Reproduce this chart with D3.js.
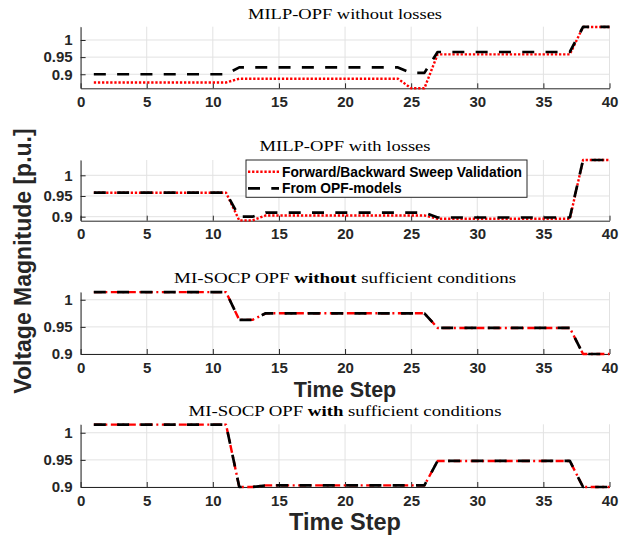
<!DOCTYPE html>
<html>
<head>
<meta charset="utf-8">
<script src="https://cdn.jsdelivr.net/npm/d3@7/dist/d3.min.js"></script>
<style>
  body { margin: 0; background: #fff; }
  svg { display: block; }
  .tick text { font-family: "Liberation Sans", Arial, sans-serif; font-weight: bold; font-size: 15px; fill: #262626; }
  .axis path, .axis line { stroke: #262626; stroke-width: 1; }
  .grid line { stroke: #e2e2e2; stroke-width: 1; }
  .title { font-family: "Liberation Serif", "Times New Roman", serif; font-size: 15px; fill: #000; white-space: pre; }
  .label { font-family: "Liberation Sans", Arial, sans-serif; font-weight: bold; fill: #262626; }
  .legend text { font-family: "Liberation Sans", Arial, sans-serif; font-weight: bold; font-size: 13.8px; fill: #000; }
</style>
</head>
<body>
<div id="chart"></div>
<script>

// time steps on the x axis
var timeSteps = [1, 2, 3, 4, 5, 6, 7, 8, 9, 10, 11, 12, 13, 14, 15, 16, 17, 18, 19, 20,
                 21, 22, 23, 24, 25, 26, 27, 28, 29, 30, 31, 32, 33, 34, 35, 36, 37, 38, 39, 40];

var xTicks = [0, 5, 10, 15, 20, 25, 30, 35, 40];
var yTicks = [0.9, 0.95, 1];

var seriesNames = ["Forward/Backward Sweep Validation", "From OPF-models"];

// MILP-OPF without losses
var sweepNoLoss = [0.876, 0.876, 0.876, 0.876, 0.876, 0.876, 0.876, 0.876, 0.876, 0.876, 0.876,
                   0.887, 0.887, 0.887, 0.887, 0.887, 0.887, 0.887, 0.887, 0.887, 0.887, 0.887, 0.887, 0.887,
                   0.859, 0.859,
                   0.958, 0.958, 0.958, 0.958, 0.958, 0.958, 0.958, 0.958, 0.958, 0.958, 0.958,
                   1.038, 1.038, 1.038];
var opfNoLoss = [0.900, 0.900, 0.900, 0.900, 0.900, 0.900, 0.900, 0.900, 0.900, 0.900, 0.900,
                 0.920, 0.920, 0.920, 0.920, 0.920, 0.920, 0.920, 0.920, 0.920, 0.920, 0.920, 0.920, 0.920,
                 0.904, 0.904,
                 0.965, 0.965, 0.965, 0.965, 0.965, 0.965, 0.965, 0.965, 0.965, 0.965, 0.965,
                 1.038, 1.038, 1.038];

// MILP-OPF with losses
var sweepLoss = [0.958, 0.958, 0.958, 0.958, 0.958, 0.958, 0.958, 0.958, 0.958, 0.958, 0.958,
                 0.891, 0.891,
                 0.903, 0.903, 0.903, 0.903, 0.903, 0.903, 0.903, 0.903, 0.903, 0.903, 0.903, 0.903, 0.903,
                 0.895, 0.895, 0.895, 0.895, 0.895, 0.895, 0.895, 0.895, 0.895, 0.895, 0.895,
                 1.037, 1.037, 1.037];
var opfLoss = [0.958, 0.958, 0.958, 0.958, 0.958, 0.958, 0.958, 0.958, 0.958, 0.958, 0.958,
               0.900, 0.900,
               0.910, 0.910, 0.910, 0.910, 0.910, 0.910, 0.910, 0.910, 0.910, 0.910, 0.910, 0.910, 0.910,
               0.898, 0.898, 0.898, 0.898, 0.898, 0.898, 0.898, 0.898, 0.898, 0.898, 0.898,
               1.037, 1.037, 1.037];

// MI-SOCP OPF without sufficient conditions (both curves coincide)
var socpNoCond = [1.014, 1.014, 1.014, 1.014, 1.014, 1.014, 1.014, 1.014, 1.014, 1.014, 1.014,
                  0.963, 0.963,
                  0.975, 0.975, 0.975, 0.975, 0.975, 0.975, 0.975, 0.975, 0.975, 0.975, 0.975, 0.975, 0.975,
                  0.948, 0.948, 0.948, 0.948, 0.948, 0.948, 0.948, 0.948, 0.948, 0.948, 0.948,
                  0.900, 0.900, 0.900];

// MI-SOCP OPF with sufficient conditions (both curves coincide)
var socpCond = [1.015, 1.015, 1.015, 1.015, 1.015, 1.015, 1.015, 1.015, 1.015, 1.015, 1.015,
                0.900, 0.900,
                0.903, 0.903, 0.903, 0.903, 0.903, 0.903, 0.903, 0.903, 0.903, 0.903, 0.903, 0.903, 0.903,
                0.948, 0.948, 0.948, 0.948, 0.948, 0.948, 0.948, 0.948, 0.948, 0.948, 0.948,
                0.900, 0.900, 0.900];

// y limits of each panel
var yLim1 = [0.859, 1.0388];
var yLim2 = [0.8903, 1.037];
var yLim3 = [0.9, 1.0143];
var yLim4 = [0.9, 1.0156];

var width = 639, height = 537;
var left = 80.6, right = 609.5;

var redDotted  = {stroke: "#ff0000", width: 2.4, dash: "2.3,1.8"};
var redDashDot = {stroke: "#ff0000", width: 2.4, dash: "8,3.5,2,3.5"};
var blackDashed = {stroke: "#000000", width: 2.7, dash: "12,11.3"};

var panels = [
  {top: 26.7, bottom: 88.3, ylim: yLim1, titleY: 19.3, titleW: 194,
   title: [["MILP-OPF without losses", false]],
   series: [{values: sweepNoLoss, style: redDotted}, {values: opfNoLoss, style: blackDashed}]},
  {top: 160, bottom: 220.7, ylim: yLim2, titleY: 150.7, titleW: 171, legend: true,
   title: [["MILP-OPF with losses", false]],
   series: [{values: sweepLoss, style: redDotted}, {values: opfLoss, style: blackDashed}]},
  {top: 292, bottom: 354, ylim: yLim3, titleY: 283, titleW: 342,
   title: [["MI-SOCP OPF ", false], ["without", true], [" sufficient conditions", false]],
   series: [{values: socpNoCond, style: redDashDot}, {values: socpNoCond, style: blackDashed}],
   xlabel: {y: 397, size: 21.5}},
  {top: 424.3, bottom: 487, ylim: yLim4, titleY: 415.5, titleW: 313,
   title: [["MI-SOCP OPF ", false], ["with", true], [" sufficient conditions", false]],
   series: [{values: socpCond, style: redDashDot}, {values: socpCond, style: blackDashed}],
   xlabel: {y: 530, size: 23.5}}
];

var svg = d3.select("#chart").append("svg")
    .attr("width", width)
    .attr("height", height);

svg.append("rect").attr("width", width).attr("height", height).attr("fill", "#fff");

var x = d3.scaleLinear().domain([0, 40]).range([left, right]);

panels.forEach(function(p) {
  var y = d3.scaleLinear().domain(p.ylim).range([p.bottom, p.top]);
  var g = svg.append("g");

  // grid
  var grid = g.append("g").attr("class", "grid");
  grid.selectAll(".gx").data(xTicks).enter().append("line")
      .attr("x1", function(d) { return x(d); })
      .attr("x2", function(d) { return x(d); })
      .attr("y1", p.top).attr("y2", p.bottom);
  grid.selectAll(".gy").data(yTicks).enter().append("line")
      .attr("x1", left).attr("x2", right)
      .attr("y1", function(d) { return y(d); })
      .attr("y2", function(d) { return y(d); });

  // axes
  g.append("g")
      .attr("class", "axis")
      .attr("transform", "translate(0," + p.bottom + ")")
      .call(d3.axisBottom(x).tickValues(xTicks).tickSizeInner(-5).tickSizeOuter(0).tickPadding(8));

  g.append("g")
      .attr("class", "axis")
      .attr("transform", "translate(" + left + ",0)")
      .call(d3.axisLeft(y).tickValues(yTicks).tickSizeInner(-5).tickSizeOuter(0).tickPadding(8)
        .tickFormat(function(d) { return String(d); }));

  // lines
  var line = d3.line()
      .x(function(d, i) { return x(timeSteps[i]); })
      .y(function(d) { return y(d); });

  p.series.forEach(function(s) {
    g.append("path")
        .datum(s.values)
        .attr("d", line)
        .attr("fill", "none")
        .attr("stroke", s.style.stroke)
        .attr("stroke-width", s.style.width)
        .attr("stroke-dasharray", s.style.dash)
        .attr("stroke-linejoin", "round");
  });

  // title
  var t = g.append("text")
      .attr("class", "title")
      .attr("x", (left + right) / 2)
      .attr("y", p.titleY)
      .attr("text-anchor", "middle")
      .attr("textLength", p.titleW)
      .attr("lengthAdjust", "spacingAndGlyphs");
  p.title.forEach(function(part) {
    t.append("tspan")
        .attr("font-weight", part[1] ? "bold" : "normal")
        .text(part[0]);
  });

  if (p.xlabel) {
    g.append("text")
        .attr("class", "label")
        .attr("x", (left + right) / 2)
        .attr("y", p.xlabel.y)
        .attr("text-anchor", "middle")
        .style("font-size", p.xlabel.size + "px")
        .text("Time Step");
  }

  if (p.legend) {
    var lg = g.append("g").attr("class", "legend");
    lg.append("rect")
        .attr("x", 246).attr("y", 160)
        .attr("width", 281).attr("height", 37.3)
        .attr("fill", "#fff")
        .attr("stroke", "#262626")
        .attr("stroke-width", 1);
    var items = lg.selectAll(".item")
        .data([{name: seriesNames[0], style: redDotted, y: 171.7},
               {name: seriesNames[1], style: blackDashed, y: 188.3}])
      .enter().append("g");
    items.append("line")
        .attr("x1", 248).attr("x2", 279)
        .attr("y1", function(d) { return d.y; })
        .attr("y2", function(d) { return d.y; })
        .attr("stroke", function(d) { return d.style.stroke; })
        .attr("stroke-width", function(d) { return d.style.width; })
        .attr("stroke-dasharray", function(d) { return d.style.dash; });
    items.append("text")
        .attr("x", 282)
        .attr("y", function(d) { return d.y + 5; })
        .text(function(d) { return d.name; });
  }
});

// shared y label
svg.append("text")
    .attr("class", "label")
    .attr("transform", "translate(31,261) rotate(-90)")
    .attr("text-anchor", "middle")
    .style("font-size", "23px")
    .text("Voltage Magnitude [p.u.]");

</script>
</body>
</html>
